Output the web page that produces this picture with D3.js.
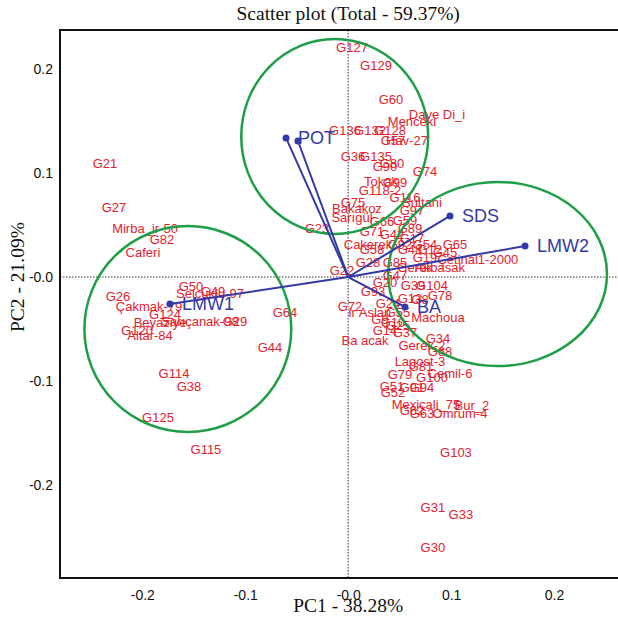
<!DOCTYPE html>
<html><head><meta charset="utf-8">
<script src="https://cdn.jsdelivr.net/npm/d3@7"></script>
<style>body{margin:0;background:#fff}svg{display:block}</style>
</head><body>
<svg id="c" width="618" height="623"></svg>
<script>
const genotypes = ["G127","G129","G60","Dave Di_i","Menceki","G136","G132","G128","G57","Hav-27","G36","G135","G80","G90","G74","Tokak","G99","G118-2","G75","G116","Sultani","Bakakoz","G97","Sarıgül","G66","G59","G23","G89","G71","G42","G17","Cakerek","G65","G54","G58","G48","Çetinal1-2000","G28","G85","Gerek","Akbasak","G22","G93","G39","G104","G78","G24","G55","G10","G72","ir Aslan","Machoua","G14","G37","G25","Ba acak","G34","Gerek-2","G68","Lagost-3","G81","G79","G100","Cemil-6","G51","G52","G91","G94","Mexicali_75","Bur_2","G63","G62","Omrum-4","G103","G31","G33","G30","G21","G27","Mirba_ir-50","G82","Caferi","G50","Selçuklu-97","G49","G26","Çakmak-79","G124","Beyaziye","Sarıçanak-98","G29","G120","Altar-84","G64","G44","G114","G38","G125","G115","G92","G12","G45","G19","G47","G8","G9","G13","G20"];
const pc1 = [0.0037,0.0270,0.0416,0.0863,0.0620,-0.0031,0.0212,0.0406,0.0435,0.0571,0.0047,0.0270,0.0426,0.0357,0.0746,0.0318,0.0455,0.0309,0.0047,0.0552,0.0717,0.0085,0.0620,0.0037,0.0328,0.0552,-0.0303,0.0600,0.0231,0.0426,0.0620,0.0192,0.1038,0.0746,0.0231,0.0600,0.1260,0.0192,0.0455,0.0649,0.0892,-0.0060,0.0241,0.0629,0.0814,0.0892,0.0386,0.0484,0.0435,0.0017,0.0211,0.0872,0.0357,0.0552,0.0484,0.0163,0.0872,0.0717,0.0892,0.0697,0.0707,0.0503,0.0814,0.0989,0.0425,0.0435,0.0620,0.0717,0.0756,0.1202,0.0717,0.0620,0.1086,0.1047,0.0823,0.1095,0.0823,-0.2363,-0.2275,-0.1974,-0.1809,-0.1994,-0.1527,-0.1343,-0.1314,-0.2237,-0.1935,-0.1780,-0.1828,-0.1440,-0.1100,-0.2052,-0.1925,-0.0614,-0.0760,-0.1692,-0.1547,-0.1848,-0.1382,0.0503,0.0795,0.0940,0.0746,0.0455,0.0697,0.0309,0.0600,0.0357];
const pc2 = [0.2202,0.2029,0.1702,0.1567,0.1500,0.1413,0.1413,0.1404,0.1317,0.1317,0.1154,0.1163,0.1087,0.1067,0.1010,0.0923,0.0904,0.0827,0.0721,0.0769,0.0721,0.0654,0.0644,0.0577,0.0538,0.0548,0.0462,0.0462,0.0433,0.0404,0.0375,0.0308,0.0317,0.0317,0.0260,0.0260,0.0173,0.0135,0.0144,0.0096,0.0087,0.0058,-0.0144,-0.0077,-0.0077,-0.0173,-0.0250,-0.0346,-0.0433,-0.0288,-0.0346,-0.0394,-0.0510,-0.0538,-0.0471,-0.0606,-0.0596,-0.0663,-0.0721,-0.0817,-0.0856,-0.0933,-0.0971,-0.0923,-0.1048,-0.1115,-0.1067,-0.1058,-0.1221,-0.1240,-0.1308,-0.1288,-0.1308,-0.1683,-0.2212,-0.2279,-0.2596,0.1096,0.0673,0.0471,0.0365,0.0231,-0.0087,-0.0163,-0.0135,-0.0192,-0.0288,-0.0356,-0.0442,-0.0423,-0.0423,-0.0510,-0.0558,-0.0346,-0.0673,-0.0923,-0.1048,-0.1346,-0.1654,0.0308,0.0260,0.0231,0.0183,0.0019,-0.0221,-0.0413,-0.0202,-0.0048];

const varNames = ["POT","","SDS","LMW2","LMW1","BA"];
const varPC1 = [-0.0604,-0.0488,0.0989,0.1718,-0.1732,0.0552];
const varPC2 = [0.1337,0.1308,0.0587,0.0298,-0.0260,-0.0288];

const ellCx = [-0.0131,-0.1558,0.1451];
const ellCy = [0.1351,-0.0500,0.0029];
const ellRx = [0.0908,0.1005,0.1063];
const ellRy = [0.0938,0.0990,0.0885];

const xTicks = [-0.2,-0.1,0,0.1,0.2];
const yTicks = [-0.2,-0.1,0,0.1,0.2];

const svg = d3.select("#c");
const L=60, R=640, T=30, B=578;
const x = d3.scaleLinear().domain([-0.28,0.2835]).range([L,R]);
const y = d3.scaleLinear().domain([-0.2894,0.2375]).range([B,T]);
const fmt = d => d===0 ? "-0.0" : d3.format(".1f")(d).replace("\u2212","-");

// zero lines
svg.append("line").attr("x1",L).attr("x2",R).attr("y1",y(0)).attr("y2",y(0))
  .attr("stroke","#777").attr("stroke-width",1.5).attr("stroke-dasharray","1.5,1.5");
svg.append("line").attr("y1",T).attr("y2",B).attr("x1",x(0)).attr("x2",x(0))
  .attr("stroke","#777").attr("stroke-width",1.5).attr("stroke-dasharray","1.5,1.5");

// genotype labels
svg.append("g").selectAll("text").data(genotypes).join("text")
  .attr("x",(d,i)=>x(pc1[i])).attr("y",(d,i)=>y(pc2[i]))
  .attr("text-anchor","middle").attr("dominant-baseline","central")
  .attr("font-family","Liberation Sans, Arial, sans-serif").attr("font-size",13)
  .attr("fill","#e5212c").text(d=>d);

// ellipses
svg.append("g").selectAll("ellipse").data(ellCx).join("ellipse")
  .attr("cx",(d,i)=>x(ellCx[i])).attr("cy",(d,i)=>y(ellCy[i]))
  .attr("rx",(d,i)=>x(ellRx[i])-x(0)).attr("ry",(d,i)=>y(0)-y(ellRy[i]))
  .attr("fill","none").attr("stroke","#1f9e48").attr("stroke-width",2.5);

// vectors
const vg = svg.append("g");
vg.selectAll("line").data(varNames).join("line")
  .attr("x1",x(0)).attr("y1",y(0))
  .attr("x2",(d,i)=>x(varPC1[i])).attr("y2",(d,i)=>y(varPC2[i]))
  .attr("stroke","#3439a6").attr("stroke-width",2);
vg.selectAll("circle").data(varNames).join("circle")
  .attr("cx",(d,i)=>x(varPC1[i])).attr("cy",(d,i)=>y(varPC2[i])).attr("r",3.5)
  .attr("fill","#3439a6");
vg.selectAll("text").data(varNames).join("text")
  .attr("x",(d,i)=>x(varPC1[i])+12).attr("y",(d,i)=>y(varPC2[i]))
  .attr("dominant-baseline","central")
  .attr("font-family","Liberation Sans, Arial, sans-serif").attr("font-size",18)
  .attr("fill","#3439a6").text(d=>d);

// frame
svg.append("rect").attr("x",L).attr("y",T).attr("width",R-L).attr("height",B-T)
  .attr("fill","none").attr("stroke","#111").attr("stroke-width",2);

// axes
const ax = svg.append("g").attr("transform",`translate(0,${B})`)
  .call(d3.axisBottom(x).tickValues(xTicks).tickFormat(fmt).tickSize(0).tickPadding(12));
const ay = svg.append("g").attr("transform",`translate(${L},0)`)
  .call(d3.axisLeft(y).tickValues(yTicks).tickFormat(fmt).tickSize(0).tickPadding(7));
[ax,ay].forEach(a=>{a.select(".domain").remove();
  a.selectAll("text").attr("font-family","Liberation Sans, Arial, sans-serif").attr("font-size",14).attr("fill","#111");});

// titles
svg.append("text").attr("x",x(0)).attr("y",20).attr("text-anchor","middle")
  .attr("font-family","Liberation Serif, Times New Roman, serif").attr("font-size",19.5).attr("fill","#111")
  .text("Scatter plot (Total - 59.37%)");
svg.append("text").attr("x",x(0)).attr("y",612).attr("text-anchor","middle")
  .attr("font-family","Liberation Serif, Times New Roman, serif").attr("font-size",19.5).attr("fill","#111")
  .text("PC1 - 38.28%");
svg.append("text").attr("transform",`translate(24,${y(0)}) rotate(-90)`).attr("text-anchor","middle")
  .attr("font-family","Liberation Serif, Times New Roman, serif").attr("font-size",19.5).attr("fill","#111")
  .text("PC2 - 21.09%");
</script>
</body></html>
